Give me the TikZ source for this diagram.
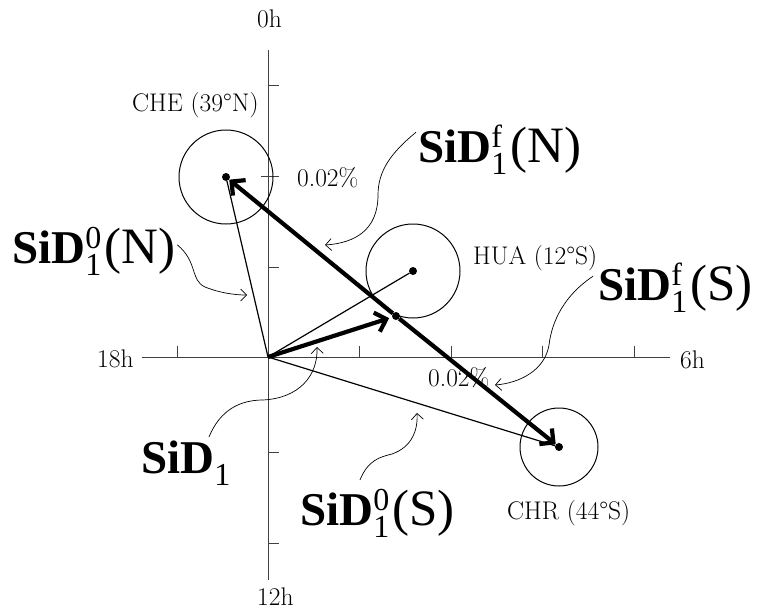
\documentclass[tikz,border=0pt]{standalone}
\usepackage{fontspec}
\newfontfamily\bigfont{Liberation Serif}
\usetikzlibrary{arrows.meta}
\newcommand{\sidlab}[2]{{\bigfont\fontsize{47}{47}\selectfont\textbf{SiD}\makebox[0pt][l]{\raisebox{15pt}{\fontsize{32}{32}\selectfont #1}}\raisebox{-12pt}{\fontsize{32}{32}\selectfont 1}\hspace{3pt}{\fontsize{51}{51}\selectfont #2}}}
\begin{document}
\begin{tikzpicture}[x=1pt,y=-1pt,
  axisline/.style={line width=0.9pt, black!75},
  tickline/.style={line width=0.8pt, black!75},
  thinvec/.style={line width=1.2pt},
  vec/.style={line width=4.2pt, -{Straight Barb[length=10pt,width=20pt]}},
  callout/.style={line width=0.7pt, -{Straight Barb[length=6pt,width=12pt]}},
  small/.style={font=\fontsize{25.5}{25.5}\selectfont, inner sep=0, anchor=base west},
  biglab/.style={inner sep=0, anchor=base west},
  dot/.style={circle, fill, inner sep=0, minimum size=8pt},
  ring/.style={draw, circle, line width=1pt, inner sep=0}]
\useasboundingbox (0,0) rectangle (763,610);
% axes
\coordinate (O) at (268,357);
\coordinate (ytop) at (268,50);
\coordinate (ybot) at (268,580);
\coordinate (xl) at (142,357);
\coordinate (xr) at (670,357);
\draw[axisline] (ytop) -- (ybot);
\draw[axisline] (xl) -- (xr);
\foreach \yy in {85,176,267,452,543} \draw[tickline] (268,\yy) -- (279,\yy);
\draw[tickline] (261,176) -- (268,176);
\foreach \xx in {177,359,451,542,634} \draw[tickline] (\xx,357) -- (\xx,346);
% axis labels
\node[small] (l0h) at (257,28) {0h};
\node[small] (l12h) at (257,605) {12h};
\node[small] (l18h) at (97,367) {18h};
\node[small] (l6h) at (680,368) {6h};
% stations
\node[ring, minimum size=94pt] (cheC) at (226,177) {};
\node[ring, minimum size=94pt] (huaC) at (413,271) {};
\node[ring, minimum size=78pt] (chrC) at (559,447) {};
\node[dot] (che) at (226,177) {};
\node[dot] (hua) at (413,271) {};
\node[dot] (chr) at (559,447) {};
\node[dot] (mid) at (396,316) {};
% small labels
\node[small] (lche) at (132,111) {CHE (39°N)};
\node[small] (lp1) at (297,186) {0.02\%};
\node[small] (lhua) at (473,264) {HUA (12°S)};
\node[small] (lp2) at (428,386) {0.02\%};
\node[small] (lchr) at (507,519) {CHR (44°S)};
% thin vectors
\draw[thinvec] (O) -- (che);
\draw[thinvec] (O) -- (hua);
\draw[thinvec] (O) -- (chr);
% thick vectors
\draw[vec, shorten >=3pt] (O) -- (mid);
\draw[vec] (mid) -- (che);
\draw[vec] (mid) -- (chr);
% big labels
\node[biglab] (lfN) at (418,162) {\sidlab{f}{(N)}};
\node[biglab] (l0N) at (12,263) {\sidlab{0}{(N)}};
\node[biglab] (lfS) at (598,300) {\sidlab{f}{(S)}};
\node[biglab] (l1) at (141,473) {\sidlab{}{}};
\node[biglab] (l0S) at (300,525) {\sidlab{0}{(S)}};
% callout ends
\coordinate (cfN) at (325,245);
\coordinate (c0N) at (247,295);
\coordinate (cfS) at (495,385);
\coordinate (c1) at (317,347);
\coordinate (c0S) at (417,413);
\draw[callout] (lfN.west) ++(-2,-17) .. controls (392,152) and (378,170) .. (378,195) .. controls (378,230) and (355,243) .. (cfN);
\draw[callout] (l0N.east) ++(2,-6) .. controls (198,262) and (190,280) .. (205,287) .. controls (220,293) and (235,295) .. (c0N);
\draw[callout] (lfS.west) ++(-5,-11) .. controls (565,295) and (552,320) .. (549,345) .. controls (545,370) and (520,383) .. (cfS);
\draw[callout] (209,437) .. controls (220,410) and (240,400) .. (263,400) .. controls (300,398) and (318,375) .. (c1);
\draw[callout] (360,480) .. controls (368,460) and (380,457) .. (392,454) .. controls (412,447) and (418,430) .. (c0S);
\end{tikzpicture}
\end{document}
